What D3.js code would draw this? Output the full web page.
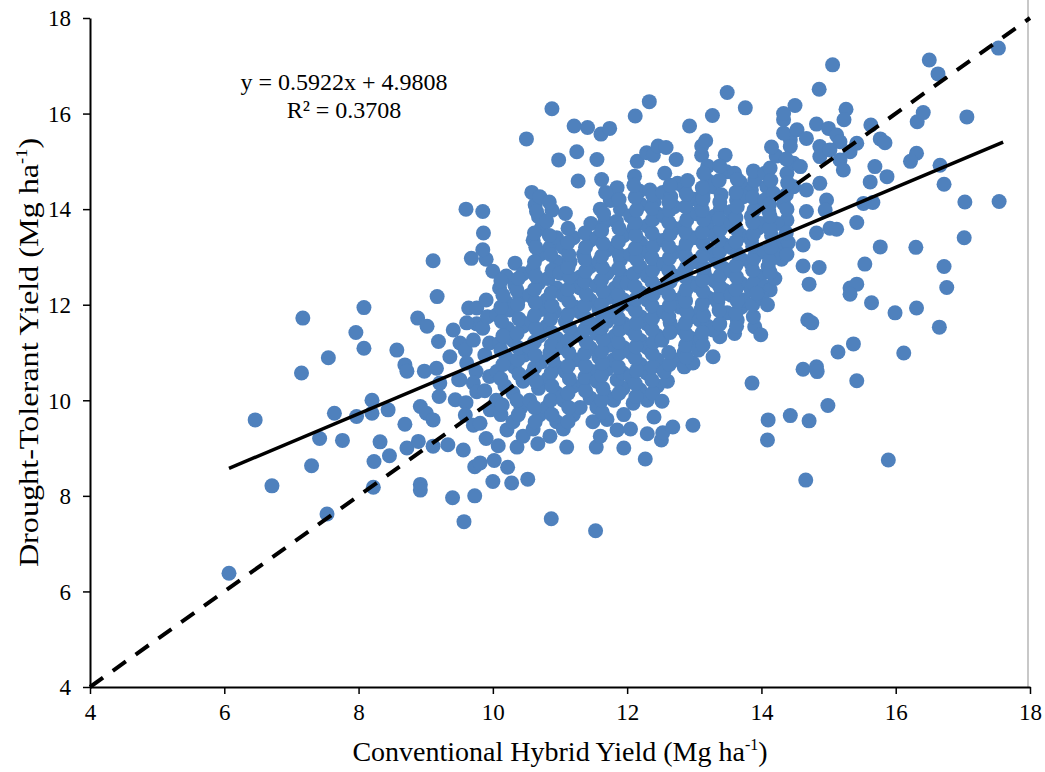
<!DOCTYPE html>
<html>
<head>
<meta charset="utf-8">
<script src="https://cdn.jsdelivr.net/npm/d3@7"></script>
<style>
  body { margin: 0; background: #fff; }
  text { font-family: "Liberation Serif", "Times New Roman", serif; fill: #000; }
</style>
</head>
<body>
<svg id="chart" width="1045" height="772"></svg>
<script>
var xTicks = [4, 6, 8, 10, 12, 14, 16, 18];
var yTicks = [4, 6, 8, 10, 12, 14, 16, 18];
var slope = 0.5922, intercept = 4.9808, rSquared = 0.3708;
var fitRange = [6.07, 17.6];
var oneToOne = [4, 18];

// [conventional hybrid, drought-tolerant] yield pairs, Mg/ha
var yieldPairs = [
  // x < 8.5
  [6.07,6.38],[6.46,9.59],[6.71,8.21],[7.15,10.57],[7.17,11.72],[7.3,8.63],[7.42,9.2],[7.53,7.62],
  [7.55,10.89],[7.64,9.73],[7.76,9.16],[7.96,11.42],[7.97,9.66],[8.08,11.94],[8.08,11.09],[8.2,10.0],
  [8.2,9.73],[8.22,8.18],[8.23,8.72],[8.32,9.13],[8.44,9.8],[8.46,8.84],
  // 8.5 - 9.5
  [8.57,11.05],[8.69,10.74],[8.72,10.61],[8.69,9.5],[8.72,9.0],[8.88,11.72],[8.92,8.24],[8.92,8.12],
  [8.89,9.14],[8.92,9.87],[9.01,9.73],[8.98,10.61],[9.02,11.55],[9.11,9.59],[9.11,9.04],[9.11,12.92],
  [9.17,12.17],[9.19,11.23],[9.21,10.36],[9.2,10.08],[9.16,10.67],[9.36,10.91],[9.41,11.47],[9.4,7.96],
  [9.33,9.07],[9.49,10.43],[9.44,10.01],
  // 9.5 - 10
  [9.56,8.96],[9.57,7.46],[9.6,14.0],[9.85,13.95],[9.86,13.5],[9.9,12.95],[9.68,12.97],[9.85,13.15],
  [9.64,11.93],[9.76,11.93],[9.76,11.6],[9.61,11.62],[9.51,11.2],[9.59,11.05],[9.71,11.26],[9.85,11.51],
  [9.61,10.78],[9.75,10.6],[9.88,10.95],[9.51,10.43],[9.71,10.36],[9.76,10.18],[9.6,9.95],[9.59,9.69],
  [9.71,9.48],[9.81,9.52],[9.96,9.8],[9.88,10.2],[9.92,11.75],[9.9,12.1],[9.73,8.61],[9.73,8.0],
  [9.81,8.69],[9.9,9.2],[9.95,10.5],[9.95,11.2],
  // 10 - 10.5
  [10.02,8.74],[10.0,8.3],[10.22,8.6],[10.08,9.05],[10.21,9.38],[10.12,9.7],[10.05,10.0],[10.18,10.3],
  [10.06,10.6],[10.2,10.9],[10.1,11.2],[10.22,11.5],[10.06,11.79],[10.2,12.05],[10.1,12.35],[10.0,12.7],
  [10.2,12.6],[10.28,8.27],[10.36,9.02],[10.45,9.25],[10.3,9.55],[10.42,9.85],[10.3,10.15],[10.45,10.4],
  [10.32,10.7],[10.47,10.95],[10.3,11.25],[10.45,11.55],[10.25,11.89],[10.4,12.15],[10.33,12.4],[10.33,12.87],
  [10.45,12.65],[10.5,15.47],
  [10.14,9.9],[10.12,10.45],[10.15,10.75],[10.12,11.05],[10.15,11.35],[10.13,11.65],[10.12,11.95],[10.15,12.2],
  [10.12,12.5],[10.38,9.7],[10.36,10.0],[10.39,10.55],[10.37,10.85],[10.38,11.1],[10.36,11.4],[10.39,11.7],
  [10.37,12.0],[10.36,12.3],[10.38,12.55],
  // 10.5 - 11
  [10.52,8.35],[10.67,9.09],[10.6,9.4],[10.7,9.7],[10.55,10.0],[10.68,10.25],[10.58,10.55],[10.72,10.8],
  [10.55,11.1],[10.7,11.35],[10.58,11.65],[10.72,11.9],[10.55,12.2],[10.68,12.45],[10.6,12.75],[10.7,13.05],
  [10.6,13.35],[10.68,13.84],[10.63,14.09],[10.58,14.35],[10.7,14.26],[10.72,13.6],[10.87,7.52],[10.85,9.25],
  [10.95,9.55],[10.8,9.85],[10.95,10.15],[10.82,10.45],[10.95,10.7],[10.85,11.0],[10.95,11.3],[10.8,11.55],
  [10.92,11.85],[10.8,12.1],[10.95,12.35],[10.82,12.55],[10.95,12.9],[10.85,13.2],[10.95,13.4],[10.88,13.98],
  [10.98,15.03],[10.88,16.1],
  [10.63,9.55],[10.62,9.85],[10.64,10.4],[10.62,10.68],[10.63,10.95],[10.62,11.22],[10.64,11.5],[10.62,11.78],
  [10.63,12.05],[10.62,12.32],[10.64,12.6],[10.62,12.9],[10.64,13.2],[10.62,13.5],[10.65,13.95],
  [10.88,9.7],[10.86,10.0],[10.88,10.3],[10.87,10.58],[10.89,10.85],[10.87,11.15],[10.88,11.42],[10.86,11.7],
  [10.88,11.98],[10.87,12.25],[10.88,12.72],[10.86,13.05],[10.84,13.45],[10.8,13.75],[10.84,14.15],
  // 11 - 11.5
  [11.1,9.02],[11.05,9.4],[11.2,9.7],[11.05,10.0],[11.2,10.3],[11.08,10.6],[11.22,10.85],[11.05,11.1],
  [11.2,11.4],[11.08,11.65],[11.22,11.95],[11.05,12.2],[11.2,12.45],[11.0,12.66],[11.15,12.9],[11.05,13.2],
  [11.2,13.4],[11.08,13.91],[11.21,15.74],[11.49,9.55],[11.3,9.85],[11.45,10.05],[11.35,10.35],[11.48,10.6],
  [11.3,10.85],[11.45,11.1],[11.32,11.35],[11.47,11.6],[11.3,11.85],[11.45,12.1],[11.3,12.35],[11.3,12.58],
  [11.45,12.8],[11.35,13.05],[11.45,13.35],[11.46,13.7],[11.27,14.59],[11.25,15.2],[11.41,15.71],
  [11.12,9.55],[11.13,9.85],[11.12,10.15],[11.14,10.45],[11.12,10.72],[11.13,11.0],[11.12,11.25],[11.14,11.52],
  [11.12,11.8],[11.13,12.08],[11.12,12.32],[11.14,12.58],[11.12,12.78],[11.13,13.05],[11.12,13.3],[11.12,13.6],
  [11.38,10.2],[11.37,10.48],[11.38,10.72],[11.37,10.98],[11.39,11.22],[11.37,11.48],[11.38,11.72],[11.37,11.98],
  [11.39,12.22],[11.37,12.48],[11.38,12.7],[11.37,12.95],[11.38,13.2],[11.37,13.5],
  // 11.5 - 12
  [11.53,7.27],[11.54,9.02],[11.6,9.25],[11.7,9.6],[11.55,9.85],[11.68,10.1],[11.55,10.4],[11.7,10.65],
  [11.58,10.9],[11.72,11.15],[11.55,11.4],[11.7,11.65],[11.58,11.9],[11.72,12.15],[11.55,12.4],[11.7,12.66],
  [11.58,12.9],[11.7,13.15],[11.55,13.4],[11.67,13.74],[11.62,14.62],[11.75,14.18],[11.55,15.04],[11.61,15.57],
  [11.74,15.69],[11.6,14.0],[11.95,9.0],[11.85,9.38],[11.95,9.7],[11.8,10.0],[11.94,10.25],[11.85,10.43],
  [11.94,10.57],[11.8,10.85],[11.95,11.1],[11.82,11.35],[11.95,11.6],[11.8,11.85],[11.95,12.1],[11.82,12.35],
  [11.95,12.6],[11.9,12.94],[11.82,13.2],[11.95,13.45],[11.84,13.74],[11.85,14.45],[11.9,14.0],
  [11.63,9.75],[11.62,10.0],[11.64,10.25],[11.62,10.52],[11.63,10.78],[11.62,11.02],[11.64,11.28],[11.62,11.52],
  [11.63,11.78],[11.62,12.02],[11.64,12.28],[11.62,12.52],[11.63,12.78],[11.62,13.02],[11.64,13.28],[11.62,13.55],
  [11.65,13.9],[11.68,14.35],
  [11.88,10.15],[11.87,10.7],[11.88,10.98],[11.87,11.22],[11.89,11.48],[11.87,11.72],[11.88,11.98],[11.87,12.22],
  [11.89,12.48],[11.87,12.75],[11.88,13.05],[11.87,13.32],[11.88,13.6],[11.88,14.2],
  // 12 - 12.5
  [12.0,12.45],[12.09,9.94],[12.05,9.4],[12.19,10.22],[12.05,10.5],[12.2,10.75],[12.05,11.0],[12.2,11.25],
  [12.05,11.5],[12.2,11.75],[12.05,12.0],[12.2,12.25],[12.1,12.65],[12.19,12.8],[12.05,13.05],[12.2,13.3],
  [12.1,13.6],[12.05,13.86],[12.2,14.1],[12.18,14.38],[12.11,14.69],[12.12,15.95],[12.15,15.0],[12.27,8.77],
  [12.3,9.3],[12.4,9.65],[12.3,10.0],[12.45,10.3],[12.29,10.57],[12.45,10.85],[12.3,11.1],[12.45,11.35],
  [12.3,11.6],[12.45,11.85],[12.3,12.1],[12.45,12.35],[12.3,12.6],[12.45,12.85],[12.3,13.1],[12.45,13.35],
  [12.3,13.65],[12.45,13.9],[12.34,14.4],[12.29,15.18],[12.39,15.13],[12.46,15.32],[12.33,16.25],[12.4,14.15],
  [12.13,10.08],[12.12,10.35],[12.14,10.62],[12.12,10.88],[12.13,11.12],[12.12,11.38],[12.14,11.62],[12.12,11.88],
  [12.13,12.12],[12.12,12.38],[12.14,12.95],[12.12,13.18],[12.13,13.45],[12.12,13.72],[12.14,13.98],[12.12,14.25],
  [12.1,14.5],
  [12.38,10.15],[12.37,10.42],[12.38,10.7],[12.37,10.98],[12.39,11.22],[12.37,11.48],[12.38,11.72],[12.37,11.98],
  [12.39,12.22],[12.37,12.48],[12.38,12.72],[12.37,12.98],[12.39,13.22],[12.37,13.5],[12.38,13.78],[12.37,14.02],
  [12.38,14.3],
  // 12.5 - 13
  [12.51,9.17],[12.53,9.32],[12.68,9.44],[12.52,9.98],[12.6,10.4],[12.55,10.6],[12.7,10.85],[12.52,11.26],
  [12.64,11.62],[12.55,11.85],[12.7,12.1],[12.55,12.35],[12.7,12.6],[12.55,12.85],[12.7,13.1],[12.55,13.35],
  [12.7,13.6],[12.55,13.85],[12.7,14.05],[12.53,14.35],[12.65,14.26],[12.56,14.75],[12.58,15.29],[12.73,15.04],
  [12.75,14.54],[12.98,9.48],[12.85,10.7],[12.98,10.78],[12.85,11.0],[12.95,11.3],[12.82,11.5],[12.79,11.95],
  [12.95,11.75],[12.85,12.2],[12.98,12.45],[12.85,12.7],[12.98,12.9],[12.85,13.15],[12.98,13.4],[12.85,13.65],
  [12.95,13.9],[12.98,14.21],[12.85,14.45],[12.93,15.74],
  [12.63,10.75],[12.62,11.0],[12.64,11.42],[12.62,11.75],[12.63,11.98],[12.62,12.22],[12.64,12.48],[12.62,12.72],
  [12.63,12.98],[12.62,13.22],[12.64,13.48],[12.62,13.72],[12.63,13.98],[12.62,14.15],[12.64,14.5],
  [12.88,10.9],[12.87,11.15],[12.88,11.38],[12.87,11.62],[12.89,11.85],[12.87,12.08],[12.88,12.32],[12.87,12.58],
  [12.89,12.8],[12.87,13.02],[12.88,13.28],[12.87,13.52],[12.89,13.78],[12.87,14.05],[12.88,14.32],[12.9,14.6],
  // 13 - 13.5
  [13.06,11.05],[13.08,11.68],[13.1,11.3],[13.2,11.55],[13.1,11.9],[13.2,12.15],[13.05,12.4],[13.15,12.66],
  [13.05,12.9],[13.2,13.15],[13.05,13.4],[13.2,13.65],[13.05,13.9],[13.13,14.32],[13.1,14.1],[13.2,14.6],
  [13.11,15.13],[13.11,15.32],[13.17,15.43],[13.2,14.9],[13.28,10.91],[13.38,11.33],[13.28,11.47],[13.49,11.83],
  [13.35,12.05],[13.45,12.3],[13.3,12.5],[13.45,12.75],[13.3,13.0],[13.45,13.25],[13.3,13.45],[13.45,13.7],
  [13.3,13.85],[13.39,14.02],[13.28,14.47],[13.48,14.78],[13.46,15.13],[13.27,15.96],[13.49,16.44],[13.4,14.3],
  [13.13,11.15],[13.12,11.42],[13.14,11.78],[13.12,12.02],[13.13,12.28],[13.12,12.52],[13.14,12.78],[13.12,13.02],
  [13.13,13.28],[13.12,13.52],[13.14,13.78],[13.12,13.98],[13.13,14.22],[13.12,14.45],[13.14,14.75],
  [13.38,11.6],[13.37,11.88],[13.38,12.18],[13.37,12.4],[13.39,12.62],[13.37,12.88],[13.38,13.12],[13.37,13.35],
  [13.39,13.58],[13.37,13.8],[13.38,14.15],[13.37,14.6],[13.38,14.9],
  // 13.5 - 14
  [13.64,11.68],[13.6,11.4],[13.7,11.95],[13.73,12.1],[13.55,12.2],[13.7,12.45],[13.55,12.7],[13.7,12.95],
  [13.55,13.2],[13.7,13.45],[13.55,13.7],[13.63,14.19],[13.7,14.5],[13.6,14.75],[13.55,13.95],[13.76,16.12],
  [13.86,10.36],[13.9,11.54],[13.99,11.37],[13.85,12.3],[13.98,12.59],[13.85,12.85],[13.98,13.1],[13.85,13.35],
  [13.95,13.6],[13.85,13.85],[13.95,14.1],[13.85,14.4],[13.9,14.6],[13.68,14.57],[13.73,14.26],[13.98,13.7],
  [13.63,11.55],[13.62,11.82],[13.64,12.08],[13.62,12.32],[13.63,12.58],[13.62,12.82],[13.64,13.08],[13.62,13.32],
  [13.63,13.58],[13.62,13.82],[13.64,14.05],[13.62,14.35],[13.64,14.62],
  [13.88,11.75],[13.87,12.0],[13.88,12.45],[13.87,12.72],[13.89,12.98],[13.87,13.22],[13.88,13.48],[13.87,13.72],
  [13.89,13.98],[13.87,14.25],[13.88,14.8],
  // 14 - 14.5
  [14.05,12.37],[14.13,12.31],[14.01,12.14],[13.93,12.24],[14.09,12.0],[14.2,12.55],[14.1,12.8],[14.3,12.95],
  [14.05,13.1],[14.25,13.25],[14.2,13.05],[14.4,13.3],[14.15,13.45],[14.05,14.19],[14.33,14.12],[14.38,13.77],
  [14.23,13.7],[14.05,14.75],[14.08,14.47],[14.18,14.33],[14.13,14.86],[14.38,14.75],[14.48,14.47],[14.48,14.96],
  [14.22,15.11],[14.43,15.45],[14.43,15.31],[14.33,15.59],[14.33,15.87],[14.33,16.0],[14.5,16.17],[14.1,9.59],
  [14.09,9.17],[14.11,13.95],
  [14.13,12.68],[14.12,12.92],[14.14,13.2],[14.12,13.6],[14.13,13.85],[14.12,14.1],[14.14,14.6],[14.15,15.3],
  [14.38,13.05],[14.37,13.5],[14.38,14.0],[14.37,14.3],[14.39,14.55],[14.37,15.05],
  // 14.5 - 15
  [14.58,14.89],[14.53,15.66],[14.67,15.48],[14.82,15.78],[14.87,15.31],[14.87,15.1],[14.86,16.51],[14.67,14.4],
  [14.87,14.54],[14.97,14.19],[14.95,13.98],[14.67,13.95],[14.82,13.5],[14.62,13.25],[14.62,12.81],[14.86,12.78],
  [14.71,12.43],[14.69,11.68],[14.75,11.62],[14.62,10.65],[14.82,10.7],[14.83,10.6],[14.71,9.57],[14.43,9.68],
  [14.66,8.33],[14.99,9.89],
  // 15 - 15.5
  [15.06,17.02],[15.0,15.69],[15.12,15.55],[15.17,15.41],[15.02,15.24],[15.32,15.2],[15.42,15.38],[15.26,16.09],
  [15.23,15.87],[15.17,15.03],[15.22,14.82],[15.02,13.6],[15.12,13.58],[15.42,13.72],[15.32,12.35],[15.42,12.43],
  [15.32,12.22],[15.14,11.01],[15.37,11.18],[15.42,10.41],
  // 15.5 - 16
  [15.63,15.76],[15.77,15.47],[15.84,15.39],[15.69,14.89],[15.87,14.68],[15.62,14.57],[15.66,14.14],[15.52,14.12],
  [15.54,12.85],[15.64,12.04],[15.77,13.21],[15.99,11.83],[15.89,8.75],
  // 16 and above
  [16.32,15.83],[16.41,16.02],[16.31,15.17],[16.22,15.0],[16.3,13.2],[16.31,11.93],[16.12,10.99],[16.5,17.12],
  [16.63,16.83],[16.66,14.92],[16.72,14.52],[16.72,12.8],[16.76,12.36],[16.65,11.53],[17.03,14.15],[17.02,13.4],
  [17.06,15.93],[17.53,17.37],[17.54,14.16]
];

var svg = d3.select("#chart"),
  margin = { top: 18, right: 15, bottom: 85, left: 90 },
  width = +svg.attr("width") - margin.left - margin.right,
  height = +svg.attr("height") - margin.top - margin.bottom;

var x = d3.scaleLinear().domain([4, 18]).range([0, width]);
var y = d3.scaleLinear().domain([4, 18]).range([height, 0]);

var g = svg.append("g").attr("transform", "translate(" + margin.left + "," + margin.top + ")");

// light plot-area border on the right
g.append("line")
  .attr("x1", width - 2).attr("x2", width - 2)
  .attr("y1", -margin.top).attr("y2", height)
  .attr("stroke", "#c8c8c8").attr("stroke-width", 2);

g.append("g")
  .selectAll("circle")
  .data(yieldPairs)
  .enter()
  .append("circle")
  .attr("cx", function(d) { return x(d[0]); })
  .attr("cy", function(d) { return y(d[1]); })
  .attr("r", 7.5)
  .attr("fill", "#4f81bd");

// 1:1 line
g.append("line")
  .attr("x1", x(oneToOne[0])).attr("y1", y(oneToOne[0]))
  .attr("x2", x(oneToOne[1])).attr("y2", y(oneToOne[1]))
  .attr("stroke", "#000").attr("stroke-width", 4)
  .attr("stroke-dasharray", "16,12");

// linear fit
g.append("line")
  .attr("x1", x(fitRange[0])).attr("y1", y(slope * fitRange[0] + intercept))
  .attr("x2", x(fitRange[1])).attr("y2", y(slope * fitRange[1] + intercept))
  .attr("stroke", "#000").attr("stroke-width", 3.5);

var xAxis = g.append("g")
  .attr("transform", "translate(0," + height + ")")
  .call(d3.axisBottom(x).tickValues(xTicks).tickSize(7).tickSizeOuter(0).tickPadding(10));

var yAxis = g.append("g")
  .call(d3.axisLeft(y).tickValues(yTicks).tickSize(7).tickSizeOuter(0).tickPadding(12));

[xAxis, yAxis].forEach(function(ax) {
  ax.select(".domain").attr("stroke", "#000").attr("stroke-width", 2);
  ax.selectAll(".tick line").attr("stroke", "#000").attr("stroke-width", 1.5);
  ax.selectAll(".tick text").attr("font-size", 23).attr("font-family", null);
});
yAxis.selectAll(".tick text").attr("dy", "0.34em");

// equation
var eq = g.append("text")
  .attr("text-anchor", "middle")
  .attr("font-size", 24);
eq.append("tspan").attr("x", 254).attr("y", 72)
  .text("y = " + slope + "x + " + intercept);
eq.append("tspan").attr("x", 254).attr("y", 100)
  .text("R² = " + rSquared);

function unitTitle(sel, label) {
  sel.append("tspan").text(label + " (Mg ha");
  sel.append("tspan").attr("font-size", 16).attr("dy", -11).text("-1");
  sel.append("tspan").attr("dy", 11).text(")");
}

svg.append("text")
  .attr("x", margin.left + width / 2)
  .attr("y", 761)
  .attr("text-anchor", "middle")
  .attr("font-size", 28)
  .call(unitTitle, "Conventional Hybrid Yield");

svg.append("text")
  .attr("transform", "translate(38," + (margin.top + height / 2) + ") rotate(-90) scale(1.15,1)")
  .attr("text-anchor", "middle")
  .attr("font-size", 28)
  .call(unitTitle, "Drought-Tolerant Yield");
</script>
</body>
</html>
